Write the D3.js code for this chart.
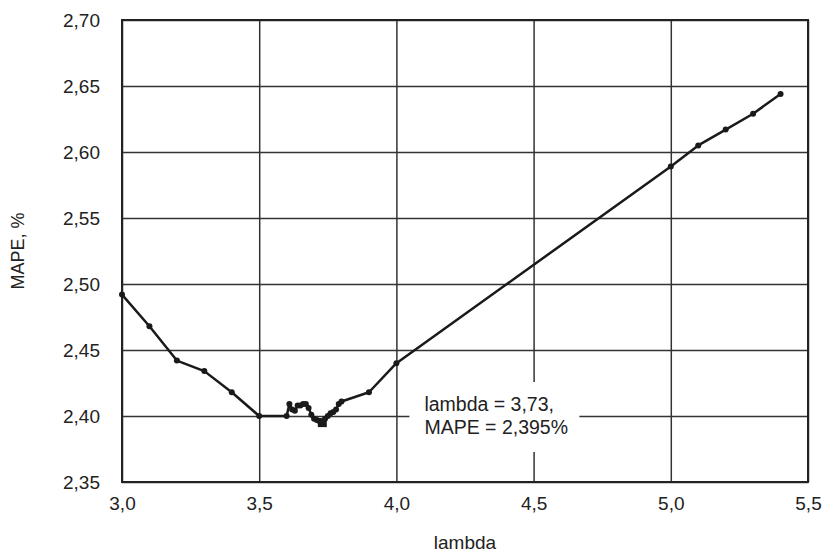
<!DOCTYPE html>
<html>
<head>
<meta charset="utf-8">
<script src="https://cdnjs.cloudflare.com/ajax/libs/d3/7.8.5/d3.min.js"></script>
<style>
  body { margin: 0; background: #fff; }
  text { font-family: "Liberation Sans", Arial, sans-serif; fill: #222; }
</style>
</head>
<body>
<div id="chart"></div>
<script>
var svgWidth = 823;
var svgHeight = 555;

var margin = { top: 20, right: 15, bottom: 73, left: 122 };
var width = svgWidth - margin.left - margin.right;
var height = svgHeight - margin.top - margin.bottom;

// data
var lambdaValues = [3.0, 3.1, 3.2, 3.3, 3.4, 3.5, 3.6, 3.61, 3.62, 3.63, 3.64, 3.65, 3.66, 3.67,
  3.68, 3.69, 3.70, 3.71, 3.72, 3.73, 3.74, 3.75, 3.76, 3.77, 3.78, 3.79, 3.80, 3.9, 4.0,
  5.0, 5.1, 5.2, 5.3, 5.4];
var mapeValues = [2.492, 2.468, 2.442, 2.434, 2.418, 2.400, 2.400, 2.409, 2.405, 2.404, 2.408, 2.408,
  2.409, 2.409, 2.406, 2.401, 2.398, 2.397, 2.396, 2.395, 2.398, 2.400, 2.402, 2.403, 2.405,
  2.409, 2.411, 2.418, 2.440, 2.589, 2.605, 2.617, 2.629, 2.644];
var xTicks = [3.0, 3.5, 4.0, 4.5, 5.0, 5.5];
var yTicks = [2.35, 2.40, 2.45, 2.50, 2.55, 2.60, 2.65, 2.70];
var bestLambda = 3.73;
var bestMape = 2.395;
var noteLines = ["lambda = 3,73,", "MAPE = 2,395%"];

var data = lambdaValues.map(function (d, i) { return { x: d, y: mapeValues[i] }; });

var svg = d3.select("#chart")
  .append("svg")
  .attr("width", svgWidth)
  .attr("height", svgHeight);

var chartGroup = svg.append("g")
  .attr("transform", `translate(${margin.left}, ${margin.top})`);

var xLinearScale = d3.scaleLinear().domain([3.0, 5.5]).range([0, width]);
var yLinearScale = d3.scaleLinear().domain([2.35, 2.70]).range([height, 0]);

var comma = function (f) { return function (d) { return d3.format(f)(d).replace(".", ","); }; };

// grid + labels via axes
var bottomAxis = d3.axisBottom(xLinearScale)
  .tickValues(xTicks)
  .tickSize(-height)
  .tickPadding(15)
  .tickFormat(comma(".1f"));
var leftAxis = d3.axisLeft(yLinearScale)
  .tickValues(yTicks)
  .tickSize(-width)
  .tickPadding(22)
  .tickFormat(comma(".2f"));

var xAxisG = chartGroup.append("g")
  .attr("transform", `translate(0, ${height})`)
  .call(bottomAxis);
var yAxisG = chartGroup.append("g").call(leftAxis);

[xAxisG, yAxisG].forEach(function (g) {
  g.select(".domain").remove();
  g.selectAll(".tick line").attr("stroke", "#333").attr("stroke-width", 1.5);
  g.selectAll(".tick text").style("font-size", "19px").attr("fill", "#222");
});

// frame
chartGroup.append("rect")
  .attr("width", width)
  .attr("height", height)
  .attr("fill", "none")
  .attr("stroke", "#222")
  .attr("stroke-width", 2);

// annotation box
var note = chartGroup.append("g")
  .attr("transform", `translate(${xLinearScale(4.0) + 13}, ${yLinearScale(2.4) - 34})`);
note.append("rect")
  .attr("width", 170)
  .attr("height", 70)
  .attr("fill", "#fff");
note.selectAll("text")
  .data(noteLines)
  .enter()
  .append("text")
  .attr("x", 15)
  .attr("y", (d, i) => 29 + i * 23)
  .style("font-size", "19.5px")
  .text(d => d);

// line
var line = d3.line()
  .x(d => xLinearScale(d.x))
  .y(d => yLinearScale(d.y));

chartGroup.append("path")
  .datum(data)
  .attr("d", line)
  .attr("fill", "none")
  .attr("stroke", "#1a1a1a")
  .attr("stroke-width", 2.5)
  .attr("stroke-linejoin", "round");

chartGroup.selectAll("circle")
  .data(data)
  .enter()
  .append("circle")
  .attr("cx", d => xLinearScale(d.x))
  .attr("cy", d => yLinearScale(d.y))
  .attr("r", 3)
  .attr("fill", "#1a1a1a");

// minimum marker
chartGroup.append("rect")
  .attr("x", xLinearScale(bestLambda) - 4.5)
  .attr("y", yLinearScale(bestMape) - 4.5)
  .attr("width", 9)
  .attr("height", 9)
  .attr("fill", "#1a1a1a");

// axes labels
chartGroup.append("text")
  .attr("transform", "rotate(-90)")
  .attr("x", -height / 2)
  .attr("y", -margin.left + 24)
  .attr("text-anchor", "middle")
  .style("font-size", "18px")
  .text("MAPE, %");

chartGroup.append("text")
  .attr("x", width / 2)
  .attr("y", height + 67)
  .attr("text-anchor", "middle")
  .style("font-size", "19px")
  .text("lambda");
</script>
</body>
</html>
